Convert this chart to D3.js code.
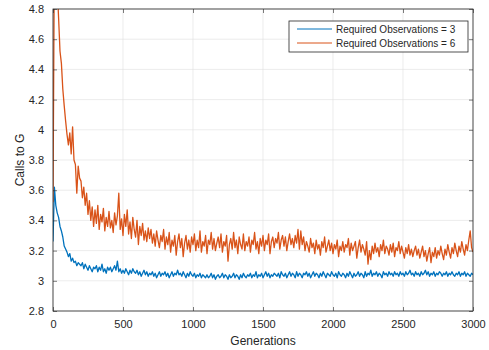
<!DOCTYPE html>
<html>
<head>
<meta charset="utf-8">
<script src="https://cdn.jsdelivr.net/npm/d3@7"></script>
<style>
  html, body { margin: 0; padding: 0; background: #fff; }
  svg { display: block; font-family: "Liberation Sans", Arial, Helvetica, sans-serif; }
</style>
</head>
<body>
<svg id="chart" width="489" height="350"></svg>
<script>
// ─── Data ──────────────────────────────────────────────────────────────────
const GEN_STEP = 10; // one sample every 10 generations
const xTicks = [0, 500, 1000, 1500, 2000, 2500, 3000];
const yTicks = [2.8, 3, 3.2, 3.4, 3.6, 3.8, 4, 4.2, 4.4, 4.6, 4.8];
const seriesNames = ["Required Observations = 3", "Required Observations = 6"];

const obs3 = [
  3.26, 3.62, 3.50, 3.45, 3.42, 3.36, 3.33, 3.29, 3.23, 3.21,
  3.19, 3.16, 3.18, 3.13, 3.15, 3.12, 3.13, 3.10, 3.12, 3.11,
  3.10, 3.12, 3.08, 3.11, 3.09, 3.07, 3.10, 3.08, 3.06, 3.09,
  3.08, 3.10, 3.06, 3.09, 3.07, 3.11, 3.06, 3.08, 3.05, 3.09,
  3.07, 3.09, 3.06, 3.08, 3.10, 3.07, 3.13, 3.06, 3.08, 3.05,
  3.07, 3.05, 3.08, 3.06, 3.04, 3.07, 3.05, 3.08, 3.06, 3.05,
  3.07, 3.04, 3.06, 3.03, 3.05, 3.07, 3.04, 3.06, 3.03, 3.05,
  3.04, 3.06, 3.03, 3.05, 3.02, 3.04, 3.06, 3.03, 3.05, 3.04,
  3.06, 3.03, 3.05, 3.02, 3.04, 3.06, 3.03, 3.05, 3.04, 3.07,
  3.04, 3.05, 3.03, 3.06, 3.04, 3.02, 3.05, 3.03, 3.06, 3.04,
  3.03, 3.05, 3.02, 3.04, 3.03, 3.05, 3.02, 3.04, 3.03, 3.02,
  3.04, 3.02, 3.03, 3.05, 3.02, 3.04, 3.01, 3.03, 3.04, 3.02,
  3.03, 3.05, 3.02, 3.04, 3.03, 3.01, 3.04, 3.02, 3.03, 3.05,
  3.02, 3.04, 3.03, 3.01, 3.04, 3.02, 3.05, 3.03, 3.02, 3.04,
  3.03, 3.05, 3.02, 3.04, 3.03, 3.06, 3.02, 3.04, 3.03, 3.05,
  3.02, 3.04, 3.06, 3.03, 3.05, 3.02, 3.04, 3.03, 3.05, 3.04,
  3.03, 3.05, 3.02, 3.06, 3.04, 3.03, 3.05, 3.02, 3.04, 3.06,
  3.03, 3.05, 3.04, 3.02, 3.06, 3.03, 3.05, 3.04, 3.02, 3.05,
  3.04, 3.06, 3.03, 3.05, 3.02, 3.04, 3.06, 3.03, 3.05, 3.04,
  3.02, 3.05, 3.03, 3.06, 3.04, 3.02, 3.05, 3.04, 3.03, 3.06,
  3.04, 3.03, 3.05, 3.02, 3.06, 3.04, 3.03, 3.05, 3.04, 3.02,
  3.05, 3.03, 3.06, 3.04, 3.02, 3.05, 3.03, 3.04, 3.06, 3.03,
  3.05, 3.04, 3.02, 3.06, 3.03, 3.05, 3.04, 3.07, 3.03, 3.05,
  3.04, 3.06, 3.03, 3.05, 3.04, 3.02, 3.06, 3.04, 3.05, 3.03,
  3.06, 3.04, 3.05, 3.03, 3.06, 3.04, 3.05, 3.03, 3.06, 3.04,
  3.05, 3.03, 3.06, 3.04, 3.05, 3.07, 3.04, 3.05, 3.03, 3.06,
  3.04, 3.05, 3.03, 3.06, 3.04, 3.05, 3.07, 3.04, 3.06, 3.03,
  3.05, 3.04, 3.06, 3.03, 3.05, 3.04, 3.06, 3.05, 3.03, 3.05,
  3.04, 3.06, 3.03, 3.05, 3.04, 3.06, 3.04, 3.03, 3.05, 3.04,
  3.06, 3.03, 3.05, 3.04, 3.06, 3.03, 3.05, 3.04, 3.03, 3.05,
  3.04
];

const obs6 = [
  3.52, 5.20, 5.10, 4.95, 4.74, 4.52, 4.44, 4.27, 4.16, 4.06,
  3.97, 3.90, 3.98, 3.84, 4.02, 3.80, 3.77, 3.58, 3.76, 3.68,
  3.66, 3.55, 3.62, 3.50, 3.58, 3.44, 3.53, 3.40, 3.49, 3.36,
  3.47, 3.38, 3.50, 3.34, 3.44, 3.39, 3.48, 3.33, 3.42, 3.36,
  3.46, 3.35, 3.40, 3.32, 3.45, 3.37, 3.43, 3.58, 3.34, 3.41,
  3.30, 3.44, 3.36, 3.47, 3.31, 3.39, 3.28, 3.42, 3.34, 3.29,
  3.40, 3.24, 3.36, 3.30, 3.38, 3.27, 3.33, 3.26, 3.35, 3.28,
  3.34, 3.25, 3.31, 3.23, 3.33, 3.27, 3.22, 3.30, 3.26, 3.34,
  3.21, 3.29, 3.24, 3.32, 3.19, 3.27, 3.23, 3.30, 3.17, 3.26,
  3.31, 3.22, 3.28, 3.16, 3.25, 3.30, 3.21, 3.27, 3.19, 3.29,
  3.24, 3.31, 3.20, 3.27, 3.22, 3.33, 3.19, 3.26, 3.23, 3.30,
  3.18, 3.27, 3.24, 3.32, 3.21, 3.28, 3.20, 3.25, 3.29, 3.22,
  3.31, 3.19, 3.26, 3.23, 3.30, 3.13, 3.24, 3.28, 3.21, 3.32,
  3.22, 3.27, 3.18, 3.29, 3.24, 3.21, 3.31, 3.20, 3.26, 3.23,
  3.29, 3.19, 3.27, 3.24, 3.32, 3.21, 3.26, 3.18, 3.28, 3.23,
  3.30, 3.20, 3.27, 3.24, 3.31, 3.18, 3.26, 3.29, 3.22, 3.28,
  3.25, 3.32, 3.21, 3.27, 3.30, 3.23, 3.29, 3.20, 3.26, 3.31,
  3.24, 3.28, 3.22, 3.30, 3.25, 3.34, 3.21, 3.33, 3.24, 3.29,
  3.20, 3.26, 3.23, 3.19, 3.28, 3.22, 3.25, 3.18, 3.27, 3.21,
  3.24, 3.17, 3.26, 3.22, 3.29, 3.19, 3.23, 3.27, 3.20, 3.25,
  3.18, 3.24, 3.21, 3.27, 3.16, 3.23, 3.20, 3.26, 3.19, 3.24,
  3.22, 3.28, 3.17, 3.25, 3.20, 3.23, 3.26, 3.15, 3.22, 3.27,
  3.19, 3.24, 3.21, 3.17, 3.26, 3.11, 3.20, 3.14, 3.23, 3.18,
  3.25, 3.19, 3.22, 3.16, 3.24, 3.20, 3.27, 3.18, 3.23, 3.21,
  3.17, 3.24, 3.19, 3.25, 3.16, 3.22, 3.20, 3.26, 3.18, 3.23,
  3.19, 3.15, 3.22, 3.18, 3.24, 3.17, 3.21, 3.16, 3.20, 3.23,
  3.17, 3.21, 3.15, 3.19, 3.23, 3.16, 3.20, 3.13, 3.18, 3.22,
  3.12, 3.19, 3.16, 3.22, 3.15, 3.20, 3.17, 3.23, 3.18, 3.14,
  3.21, 3.17, 3.24, 3.19, 3.15, 3.22, 3.18, 3.25, 3.20, 3.16,
  3.23, 3.19, 3.26, 3.21, 3.17, 3.24, 3.20, 3.27, 3.33, 3.22,
  3.19
];

// ─── Layout ────────────────────────────────────────────────────────────────
const W = 489, H = 350;
const M = { top: 9, right: 16, bottom: 39, left: 53 };
const innerW = W - M.left - M.right;
const innerH = H - M.top - M.bottom;

const AXIS = "#262626";
const GRID = "#dfdfdf";
const COLORS = ["#0072bd", "#d95319"];

const x = d3.scaleLinear().domain([0, 3000]).range([0, innerW]);
const y = d3.scaleLinear().domain([2.8, 4.8]).range([innerH, 0]);

const svg = d3.select("#chart");
const g = svg.append("g").attr("transform", `translate(${M.left},${M.top})`);

svg.append("defs").append("clipPath").attr("id", "clip")
  .append("rect").attr("width", innerW).attr("height", innerH);

// ── Grid ───────────────────────────────────────────────────────────────────
g.append("g").selectAll("line").data(xTicks).join("line")
  .attr("x1", d => x(d)).attr("x2", d => x(d))
  .attr("y1", 0).attr("y2", innerH)
  .attr("stroke", GRID).attr("stroke-width", 0.6);
g.append("g").selectAll("line").data(yTicks).join("line")
  .attr("x1", 0).attr("x2", innerW)
  .attr("y1", d => y(d)).attr("y2", d => y(d))
  .attr("stroke", GRID).attr("stroke-width", 0.6);

// ── Series ─────────────────────────────────────────────────────────────────
const line = d3.line().x((d, i) => x(i * GEN_STEP)).y(d => y(d));
const plot = g.append("g").attr("clip-path", "url(#clip)");
[obs3, obs6].forEach((s, k) => {
  plot.append("path").datum(s)
    .attr("d", line)
    .attr("fill", "none")
    .attr("stroke", COLORS[k])
    .attr("stroke-width", 1.3)
    .attr("stroke-linejoin", "round");
});

// ── Axes (MATLAB box, inward ticks on all sides) ───────────────────────────
const tickLen = 4;
const styleAxis = sel => {
  sel.select(".domain").remove();
  sel.selectAll(".tick line").attr("stroke", AXIS).attr("stroke-width", 0.6);
  sel.selectAll(".tick text").attr("fill", AXIS).attr("font-size", "11px")
    .attr("font-family", "Liberation Sans, Arial, sans-serif");
};
const fmtY = d => d3.format("~g")(d);

g.append("g").attr("transform", `translate(0,${innerH})`)
  .call(d3.axisBottom(x).tickValues(xTicks).tickSizeInner(-tickLen).tickSizeOuter(0).tickPadding(9).tickFormat(d3.format("d")))
  .call(styleAxis);
g.append("g")
  .call(d3.axisTop(x).tickValues(xTicks).tickSizeInner(-tickLen).tickSizeOuter(0).tickFormat(""))
  .call(styleAxis);
g.append("g")
  .call(d3.axisLeft(y).tickValues(yTicks).tickSizeInner(-tickLen).tickSizeOuter(0).tickPadding(9).tickFormat(fmtY))
  .call(styleAxis);
g.append("g").attr("transform", `translate(${innerW},0)`)
  .call(d3.axisRight(y).tickValues(yTicks).tickSizeInner(-tickLen).tickSizeOuter(0).tickFormat(""))
  .call(styleAxis);

g.append("rect").attr("width", innerW).attr("height", innerH)
  .attr("fill", "none").attr("stroke", AXIS).attr("stroke-width", 0.8);

// ── Axis labels ────────────────────────────────────────────────────────────
svg.append("text")
  .attr("x", M.left + innerW / 2).attr("y", 345)
  .attr("text-anchor", "middle").attr("font-size", "12px").attr("fill", AXIS)
  .text("Generations");
svg.append("text")
  .attr("transform", `translate(24,${M.top + innerH / 2}) rotate(-90)`)
  .attr("text-anchor", "middle").attr("font-size", "12px").attr("fill", AXIS)
  .text("Calls to G");

// ── Legend ─────────────────────────────────────────────────────────────────
const lg = svg.append("g").attr("transform", "translate(289,21)");
lg.append("rect").attr("width", 179).attr("height", 31)
  .attr("fill", "#fff").attr("stroke", AXIS).attr("stroke-width", 0.8);
seriesNames.forEach((name, i) => {
  const ly = 8 + i * 14;
  lg.append("line").attr("x1", 8).attr("x2", 43).attr("y1", ly).attr("y2", ly)
    .attr("stroke", COLORS[i]).attr("stroke-width", 1);
  lg.append("text").attr("x", 47).attr("y", ly).attr("dy", "0.35em")
    .attr("font-size", "10px").attr("fill", AXIS).text(name);
});
</script>
</body>
</html>
